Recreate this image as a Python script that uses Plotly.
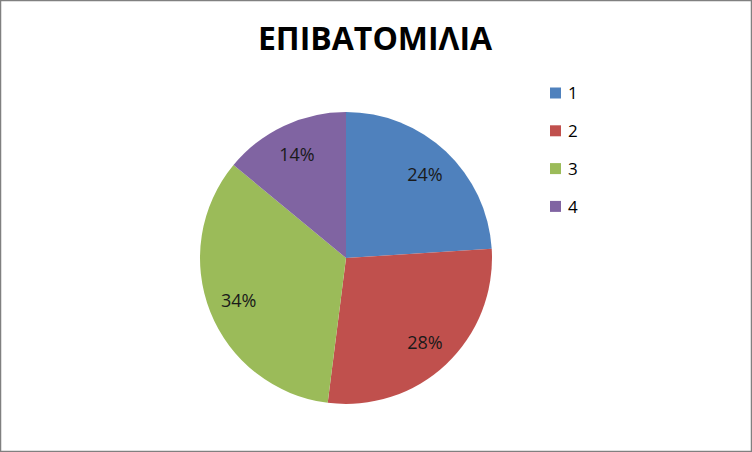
import plotly.graph_objects as go

W, H = 752, 452

# Δεδομένα (ποσοστά από το διάγραμμα)
labels = ["1", "2", "3", "4"]
values = [24, 28, 34, 14]
colors = ["#4F81BD", "#C0504D", "#9BBB59", "#8064A2"]

title = "ΕΠΙΒΑΤΟΜΙΛΙΑ"
font = "Open Sans"

dom = dict(x=[200 / W, 492 / W], y=[48 / H, 340 / H])

fig = go.Figure()
# η πίτα
fig.add_trace(go.Pie(
    labels=labels, values=values, sort=False,
    direction="clockwise", rotation=0,
    marker=dict(colors=colors, line=dict(width=0)),
    textinfo="none", domain=dom, showlegend=False,
    hoverinfo="label+value+percent",
))
# διαφανής δακτύλιος μόνο για τις ετικέτες ποσοστών
fig.add_trace(go.Pie(
    labels=labels, values=values, sort=False,
    direction="clockwise", rotation=0, hole=0.58,
    marker=dict(colors=["rgba(0,0,0,0)"] * len(values), line=dict(width=0)),
    textinfo="percent", texttemplate="%{percent:.0%}",
    textposition="inside", insidetextorientation="horizontal",
    textfont=dict(family=font, size=18, color="#1a1a1a"),
    domain=dom, showlegend=False, hoverinfo="skip",
))

# υπόμνημα (τετράγωνο + ετικέτα)
shapes = []
annotations = []
for i, (lab, col) in enumerate(zip(labels, colors)):
    cy = 93 + i * 37.8
    shapes.append(dict(
        type="rect", xref="paper", yref="paper",
        x0=550 / W, x1=561 / W,
        y0=1 - (cy + 5.5) / H, y1=1 - (cy - 5.5) / H,
        fillcolor=col, line=dict(width=0),
    ))
    annotations.append(dict(
        text=lab, xref="paper", yref="paper",
        x=566 / W, y=1 - cy / H, xanchor="left", yanchor="middle",
        showarrow=False, font=dict(family=font, size=17, color="#000000"),
    ))

# περίγραμμα
shapes.append(dict(
    type="rect", xref="paper", yref="paper", x0=0, x1=1, y0=0, y1=1,
    line=dict(color="#808080", width=2.5), fillcolor="rgba(0,0,0,0)",
))

fig.update_layout(
    width=W, height=H,
    margin=dict(l=0, r=0, t=0, b=0),
    paper_bgcolor="white",
    title=dict(
        text="<b>" + title + "</b>",
        x=375 / W, xanchor="center",
        y=1 - 39 / H, yanchor="middle",
        font=dict(family=font, size=32, color="#000000"),
    ),
    shapes=shapes,
    annotations=annotations,
)

fig.write_html("out.html", config={"displayModeBar": False},
               post_script="document.body.style.margin='0';")
